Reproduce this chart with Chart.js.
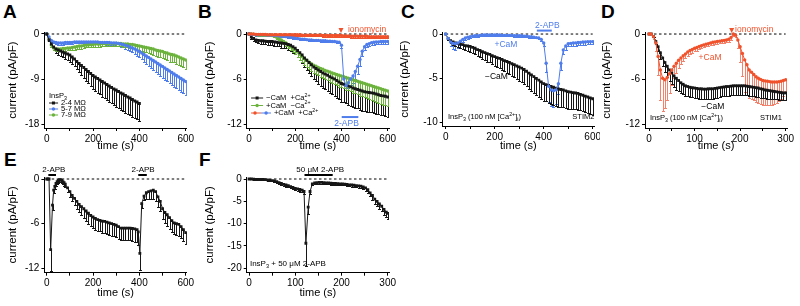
<!DOCTYPE html>
<html lang="en">
<head>
    <meta charset="UTF-8">
    <title>InsP3 currents, panels A-F</title>
    <script src="https://cdn.jsdelivr.net/npm/chart.js"></script>
    <style>
        body {
            margin: 0;
            width: 800px;
            height: 306px;
            position: relative;
            overflow: hidden;
            background: #fff;
            font-family: "Liberation Sans", Arial, sans-serif;
        }
        canvas { position: absolute; }
        .lbl {
            position: absolute;
            font-weight: bold;
            font-size: 19px;
            line-height: 1;
            color: #000;
        }
    </style>
</head>
<body>
    <div class="lbl" style="left:3px;top:2px">A</div>
    <div class="lbl" style="left:198px;top:2px">B</div>
    <div class="lbl" style="left:401px;top:2px">C</div>
    <div class="lbl" style="left:601px;top:2px">D</div>
    <div class="lbl" style="left:4px;top:150px">E</div>
    <div class="lbl" style="left:199px;top:150px">F</div>

    <canvas id="pA" width="195" height="153" style="left:0px;top:0px"></canvas>
    <canvas id="pB" width="205" height="153" style="left:195px;top:0px"></canvas>
    <canvas id="pC" width="202" height="153" style="left:398px;top:0px"></canvas>
    <canvas id="pD" width="200" height="153" style="left:600px;top:0px"></canvas>
    <canvas id="pE" width="195" height="146" style="left:0px;top:160px"></canvas>
    <canvas id="pF" width="205" height="146" style="left:195px;top:160px"></canvas>

    <script>
        // time points (s)
        const t10 = [0,10,20,30,40,50,60,70,80,90,100,110,120,130,140,150,160,170,180,190,200,210,220,230,240,250,260,270,280,290,300,310,320,330,340,350,360,370,380,390,400,410,420,430,440,450,460,470,480,490,500,510,520,530,540,550,560,570,580,590,600];
        const t5 = [0,5,10,15,20,25,30,35,40,45,50,55,60,65,70,75,80,85,90,95,100,105,110,115,120,125,130,135,140,145,150,155,160,165,170,175,180,185,190,195,200,205,210,215,220,225,230,235,240,245,250,255,260,265,270,275,280,285,290,295,300];
        const tE = [0,5,10,17,25,30,35,40,45,50,55,60,65,70,75,80,90,100,110,120,130,140,150,160,170,180,190,200,210,220,230,240,250,260,270,280,290,300,310,320,330,340,350,360,370,380,390,395,402,410,420,430,440,450,460,470,480,490,500,510,520,530,540,550,560,570,580,590,600];
        const tF = [0,5,10,15,20,25,30,35,40,45,50,55,60,65,70,75,80,85,90,95,100,105,110,115,119,123,128,132,137,142,147,152,157,162,167,172,177,182,187,192,197,202,207,212,217,222,227,232,237,242,247,252,257,262,267,272,277,282,287,292,297,300];

        // A: InsP3, pipette resistance
        const aSmall = [0,-1.2,-2.0,-2.6,-3.0,-3.2,-3.4,-3.6,-3.8,-4.0,-4.2,-4.6,-5.0,-5.5,-5.9,-6.3,-6.7,-7.1,-7.5,-7.9,-8.3,-8.6,-8.9,-9.2,-9.5,-9.8,-10.1,-10.4,-10.7,-11.0,-11.2,-11.5,-11.8,-12.0,-12.3,-12.6,-12.8,-13.1,-13.4,-13.6,-13.9];
        const aSmallErr = [0,0.3,0.5,0.7,0.8,0.9,1.0,1.1,1.2,1.2,1.3,1.4,1.5,1.6,1.8,1.9,2.0,2.2,2.3,2.4,2.6,2.7,2.8,2.9,3.0,3.0,3.1,3.1,3.2,3.2,3.3,3.3,3.3,3.4,3.4,3.4,3.4,3.4,3.4,3.4,3.4];
        const aMid = [0,-0.6,-1.3,-1.6,-1.7,-1.8,-1.8,-1.8,-1.7,-1.7,-1.7,-1.7,-1.6,-1.6,-1.6,-1.6,-1.6,-1.6,-1.6,-1.6,-1.6,-1.6,-1.6,-1.7,-1.7,-1.7,-1.7,-1.7,-1.8,-1.8,-1.8,-1.9,-2.0,-2.1,-2.3,-2.4,-2.6,-2.8,-3.0,-3.2,-3.5,-3.8,-4.1,-4.4,-4.7,-5.0,-5.3,-5.6,-5.9,-6.2,-6.5,-6.8,-7.1,-7.4,-7.7,-8.0,-8.3,-8.6,-8.9,-9.2,-9.5];
        const aMidErr = [0,0.2,0.3,0.3,0.3,0.3,0.3,0.3,0.3,0.3,0.3,0.3,0.3,0.3,0.3,0.3,0.3,0.3,0.3,0.3,0.3,0.3,0.3,0.3,0.3,0.3,0.4,0.4,0.4,0.4,0.5,0.5,0.6,0.6,0.7,0.8,0.8,0.9,1.0,1.1,1.2,1.3,1.4,1.5,1.6,1.8,1.9,2.0,2.1,2.2,2.2,2.3,2.3,2.4,2.4,2.5,2.5,2.6,2.6,2.7,2.7];
        const aLarge = [0,-1.0,-2.2,-2.8,-3.0,-3.0,-3.0,-2.9,-2.9,-2.8,-2.8,-2.7,-2.6,-2.5,-2.4,-2.4,-2.3,-2.2,-2.2,-2.1,-2.1,-2.0,-2.0,-2.0,-1.9,-1.9,-1.9,-1.9,-1.9,-1.9,-1.9,-1.9,-1.9,-2.0,-2.0,-2.0,-2.1,-2.1,-2.2,-2.3,-2.4,-2.5,-2.6,-2.7,-2.8,-2.9,-3.0,-3.2,-3.3,-3.4,-3.5,-3.7,-3.8,-4.0,-4.1,-4.2,-4.4,-4.6,-4.8,-5.0,-5.2];
        const aLargeErr = [0,0.2,0.4,0.5,0.5,0.5,0.5,0.5,0.5,0.5,0.5,0.5,0.5,0.5,0.5,0.5,0.5,0.5,0.5,0.5,0.5,0.5,0.5,0.5,0.5,0.5,0.5,0.5,0.5,0.5,0.5,0.5,0.5,0.6,0.6,0.6,0.7,0.7,0.8,0.8,0.9,0.9,1.0,1.0,1.1,1.1,1.2,1.2,1.3,1.3,1.3,1.4,1.4,1.5,1.5,1.5,1.6,1.6,1.6,1.7,1.7];

        // B: CaM / Ca2+
        const bNoCaM = [0,-0.4,-0.6,-0.8,-0.85,-0.9,-0.9,-0.95,-1.0,-1.0,-1.0,-1.05,-1.1,-1.15,-1.2,-1.25,-1.3,-1.4,-1.5,-1.7,-1.9,-2.2,-2.5,-2.8,-3.2,-3.5,-3.8,-4.1,-4.4,-4.6,-4.8,-5.0,-5.2,-5.35,-5.5,-5.7,-5.85,-6.0,-6.2,-6.4,-6.6,-6.7,-6.85,-6.95,-7.05,-7.2,-7.3,-7.4,-7.5,-7.6,-7.7,-7.75,-7.8,-7.85,-7.9,-8.0,-8.1,-8.2,-8.25,-8.3,-8.4];
        const bNoCaMErr = [0,0.2,0.3,0.3,0.4,0.4,0.4,0.4,0.5,0.5,0.5,0.5,0.5,0.5,0.6,0.6,0.6,0.7,0.7,0.8,0.8,0.9,1.0,1.1,1.2,1.3,1.4,1.5,1.6,1.7,1.8,1.9,2.0,2.0,2.1,2.1,2.2,2.2,2.3,2.3,2.4,2.4,2.4,2.5,2.5,2.5,2.5,2.5,2.6,2.6,2.6,2.6,2.6,2.6,2.6,2.6,2.6,2.6,2.6,2.6,2.6];
        const bNoCa = [0,0,-0.05,-0.05,-0.1,-0.1,-0.1,-0.1,-0.15,-0.15,-0.2,-0.3,-0.45,-0.6,-0.8,-1.0,-1.2,-1.45,-1.7,-1.9,-2.1,-2.4,-2.7,-3.0,-3.3,-3.5,-3.75,-3.95,-4.15,-4.3,-4.45,-4.6,-4.7,-4.85,-4.95,-5.05,-5.2,-5.3,-5.4,-5.5,-5.6,-5.7,-5.8,-5.9,-6.0,-6.1,-6.2,-6.3,-6.4,-6.5,-6.6,-6.7,-6.8,-6.9,-7.0,-7.1,-7.2,-7.3,-7.4,-7.5,-7.6];
        const bNoCaErr = [0,0.1,0.1,0.1,0.1,0.1,0.1,0.1,0.1,0.1,0.1,0.15,0.2,0.2,0.25,0.3,0.35,0.4,0.45,0.5,0.6,0.65,0.7,0.75,0.8,0.85,0.9,0.95,1.0,1.0,1.0,1.1,1.1,1.2,1.2,1.3,1.3,1.4,1.4,1.5,1.5,1.5,1.6,1.6,1.6,1.7,1.7,1.7,1.8,1.8,1.8,1.8,1.9,1.9,1.9,1.9,2.0,2.0,2.0,2.0,2.0];
        const bIono = [0,0,0,-0.05,-0.05,-0.05,-0.05,-0.05,-0.1,-0.1,-0.1,-0.1,-0.1,-0.1,-0.1,-0.1,-0.1,-0.1,-0.1,-0.1,-0.1,-0.1,-0.1,-0.15,-0.15,-0.15,-0.15,-0.15,-0.15,-0.15,-0.15,-0.15,-0.2,-0.2,-0.2,-0.2,-0.2,-0.2,-0.2,-0.2,-0.2,-0.25,-0.25,-0.25,-0.3,-0.3,-0.3,-0.3,-0.3,-0.3,-0.3,-0.3,-0.35,-0.35,-0.35,-0.35,-0.35,-0.35,-0.35,-0.35,-0.35];
        const bIonoErr = [0,0.05,0.05,0.1,0.1,0.1,0.1,0.1,0.1,0.1,0.1,0.1,0.1,0.1,0.1,0.1,0.1,0.1,0.1,0.1,0.1,0.15,0.15,0.15,0.15,0.15,0.15,0.15,0.15,0.15,0.15,0.15,0.15,0.15,0.15,0.15,0.15,0.15,0.15,0.15,0.15,0.2,0.2,0.2,0.2,0.2,0.2,0.2,0.2,0.2,0.2,0.2,0.2,0.2,0.2,0.2,0.2,0.2,0.2,0.2,0.2];
        const bApb = [0,-0.05,-0.05,-0.1,-0.1,-0.1,-0.1,-0.1,-0.15,-0.15,-0.15,-0.2,-0.2,-0.25,-0.25,-0.3,-0.35,-0.4,-0.45,-0.5,-0.55,-0.6,-0.65,-0.7,-0.7,-0.75,-0.8,-0.8,-0.85,-0.85,-0.85,-0.9,-0.9,-0.9,-0.95,-0.95,-1.0,-1.0,-1.05,-1.1,-1.5,-6.0,-6.9,-6.5,-6.0,-5.6,-5.0,-4.3,-3.4,-2.3,-1.7,-1.4,-1.3,-1.15,-1.1,-1.05,-1.05,-1.0,-1.0,-1.0,-1.0];
        const bApbErr = [0,0.05,0.05,0.1,0.1,0.1,0.1,0.1,0.1,0.1,0.1,0.1,0.1,0.1,0.1,0.1,0.1,0.1,0.1,0.1,0.1,0.1,0.1,0.1,0.1,0.1,0.1,0.1,0.1,0.1,0.1,0.1,0.1,0.1,0.1,0.1,0.1,0.1,0.1,0.1,0.3,0.6,0.6,0.7,0.8,0.9,1.0,1.0,0.9,0.6,0.4,0.3,0.3,0.3,0.3,0.3,0.3,0.3,0.3,0.3,0.3];

        // C: STIM2
        const cCaM = [0,-0.5,-0.9,-1.05,-1.1,-1.0,-0.8,-0.6,-0.45,-0.35,-0.3,-0.25,-0.2,-0.2,-0.15,-0.1,-0.1,-0.1,-0.1,-0.1,-0.1,-0.1,-0.1,-0.15,-0.15,-0.15,-0.15,-0.15,-0.2,-0.2,-0.2,-0.2,-0.25,-0.25,-0.3,-0.3,-0.35,-0.4,-0.45,-0.6,-1.0,-3.3,-5.9,-6.3,-6.4,-6.3,-5.6,-3.3,-1.8,-1.35,-1.1,-1.05,-1.0,-1.0,-0.95,-0.95,-0.9,-0.9,-0.85,-0.85,-0.85];
        const cCaMErr = [0,0.2,0.4,0.6,0.7,0.6,0.4,0.3,0.2,0.2,0.2,0.1,0.1,0.1,0.1,0.1,0.1,0.1,0.1,0.1,0.1,0.1,0.1,0.1,0.1,0.1,0.1,0.1,0.1,0.1,0.1,0.1,0.1,0.1,0.1,0.1,0.1,0.1,0.1,0.2,0.3,1.0,1.8,1.8,1.8,1.6,1.2,0.8,0.5,0.4,0.3,0.3,0.3,0.3,0.3,0.3,0.3,0.3,0.3,0.3,0.3];
        const cNoCaM = [0,-0.5,-0.75,-0.9,-1.0,-1.05,-1.1,-1.2,-1.3,-1.35,-1.4,-1.5,-1.6,-1.75,-1.85,-2.0,-2.1,-2.2,-2.3,-2.45,-2.55,-2.65,-2.75,-2.85,-3.0,-3.1,-3.2,-3.35,-3.45,-3.6,-3.7,-3.85,-4.0,-4.2,-4.4,-4.6,-4.8,-5.0,-5.2,-5.4,-5.6,-5.7,-5.8,-5.9,-6.0,-6.1,-6.2,-6.25,-6.3,-6.4,-6.5,-6.55,-6.6,-6.65,-6.7,-6.8,-6.9,-7.0,-7.1,-7.2,-7.3];
        const cNoCaMErr = [0,0.2,0.3,0.3,0.35,0.4,0.45,0.5,0.5,0.55,0.6,0.65,0.7,0.7,0.75,0.8,0.85,0.9,0.9,0.95,1.0,1.05,1.1,1.15,1.2,1.3,1.35,1.4,1.45,1.5,1.6,1.6,1.65,1.7,1.75,1.8,1.8,1.85,1.85,1.9,1.9,1.9,1.95,1.95,2.0,2.0,2.0,2.0,1.95,1.95,1.9,1.9,1.9,1.85,1.85,1.8,1.8,1.8,1.8,1.8,1.8];

        // D: STIM1
        const dCaM = [0,0,-0.35,-1.2,-3.0,-4.8,-5.9,-6.1,-5.8,-5.3,-4.8,-4.3,-3.9,-3.5,-3.2,-2.9,-2.65,-2.4,-2.2,-2.05,-1.9,-1.8,-1.65,-1.55,-1.45,-1.35,-1.3,-1.2,-1.1,-1.05,-1.0,-0.95,-0.9,-0.85,-0.8,-0.7,-0.45,0.0,-0.15,-0.8,-1.7,-2.6,-3.45,-4.1,-4.8,-5.1,-5.4,-5.7,-5.9,-6.05,-6.2,-6.25,-6.3,-6.35,-6.4,-6.4,-6.4,-6.35,-6.3,-6.2,-6.1];
        const dCaMErr = [0,0,0.3,1.0,2.5,4.0,4.4,3.8,3.0,2.5,2.0,1.6,1.3,1.0,0.8,0.7,0.6,0.5,0.5,0.45,0.4,0.4,0.35,0.35,0.3,0.3,0.3,0.3,0.3,0.3,0.3,0.3,0.3,0.3,0.3,0.3,0.3,0.2,0.3,1.0,2.0,3.0,4.3,4.0,3.7,3.5,3.4,3.4,3.3,3.3,3.3,3.2,3.2,3.1,3.0,2.9,2.8,2.6,2.4,2.0,1.5];
        const dNoCaM = [0,0,-0.35,-1.0,-1.7,-2.5,-3.2,-3.8,-4.3,-4.8,-5.2,-5.6,-5.9,-6.2,-6.5,-6.7,-6.9,-7.0,-7.1,-7.15,-7.2,-7.25,-7.3,-7.3,-7.35,-7.35,-7.3,-7.3,-7.3,-7.25,-7.2,-7.15,-7.1,-7.05,-7.0,-7.0,-6.95,-6.9,-6.9,-6.9,-6.9,-6.9,-6.9,-6.95,-7.0,-7.05,-7.1,-7.15,-7.2,-7.3,-7.35,-7.45,-7.5,-7.55,-7.6,-7.65,-7.7,-7.75,-7.8,-7.85,-7.85];
        const dNoCaMErr = [0,0,0.1,0.3,0.5,0.8,1.0,1.2,1.4,1.5,1.5,1.5,1.5,1.4,1.4,1.3,1.3,1.3,1.3,1.3,1.3,1.3,1.3,1.3,1.3,1.3,1.3,1.3,1.3,1.3,1.3,1.2,1.2,1.2,1.2,1.2,1.2,1.2,1.2,1.2,1.2,1.2,1.2,1.2,1.2,1.2,1.2,1.2,1.2,1.2,1.2,1.1,1.1,1.1,1.1,1.0,1.0,1.0,1.0,1.0,1.0];

        // E: repeated 2-APB
        const eMean = [0,0,0,-9.5,-3.5,-1.5,-1.0,-0.6,-0.35,-0.2,-0.1,-0.1,-0.2,-0.35,-0.5,-0.7,-1.2,-1.7,-2.2,-2.6,-3.0,-3.4,-3.7,-4.0,-4.3,-4.6,-4.9,-5.1,-5.3,-5.45,-5.55,-5.65,-5.7,-5.8,-5.9,-6.0,-6.1,-6.2,-6.4,-6.6,-6.6,-6.6,-6.6,-6.6,-6.65,-6.7,-6.8,-7.1,-10.0,-3.3,-2.3,-1.85,-1.7,-1.6,-1.5,-1.7,-2.4,-3.0,-4.0,-4.5,-4.8,-5.2,-5.6,-5.9,-6.0,-6.1,-6.4,-6.8,-7.2];
        const eErr = [0,0,0,2.8,0.6,0.4,0.3,0.3,0.3,0.3,0.3,0.3,0.3,0.3,0.4,0.4,0.5,0.7,0.8,0.9,1.0,1.1,1.2,1.3,1.3,1.4,1.4,1.5,1.5,1.5,1.5,1.6,1.6,1.6,1.6,1.6,1.6,1.6,1.6,1.6,1.6,1.6,1.6,1.6,1.7,1.7,1.7,1.8,2.2,0.6,0.5,0.8,1.0,1.1,1.2,1.2,1.3,1.3,1.4,1.4,1.5,1.5,1.5,1.5,1.5,1.5,1.5,1.5,1.5];

        // F: InsP3 + 50 uM 2-APB
        const fMean = [0,0,-0.05,-0.1,-0.1,-0.1,-0.1,-0.15,-0.2,-0.3,-0.35,-0.45,-0.6,-0.8,-1.0,-1.2,-1.35,-1.5,-1.7,-1.9,-2.1,-2.2,-2.35,-2.5,-2.8,-14.4,-6.3,-2.8,-1.1,-0.9,-0.8,-0.75,-0.75,-0.8,-0.85,-0.9,-0.95,-1.0,-1.0,-1.05,-1.1,-1.1,-1.15,-1.2,-1.3,-1.35,-1.4,-1.5,-1.55,-1.6,-1.75,-2.0,-2.4,-3.1,-3.7,-4.5,-5.0,-5.6,-6.1,-6.8,-7.4,-7.7];
        const fErr = [0,0.1,0.1,0.1,0.1,0.1,0.1,0.1,0.15,0.2,0.2,0.2,0.25,0.3,0.3,0.3,0.35,0.35,0.4,0.4,0.4,0.4,0.45,0.45,0.5,5.2,1.5,0.6,0.3,0.3,0.3,0.3,0.3,0.3,0.3,0.3,0.3,0.3,0.3,0.3,0.3,0.3,0.3,0.3,0.35,0.35,0.4,0.4,0.45,0.5,0.55,0.6,0.7,0.8,0.9,1.0,1.0,1.1,1.1,1.2,1.2,1.3];

        // axis ticks
        const ticks600 = [0,100,200,300,400,500,600];
        const labels600 = [0,200,400,600];
        const ticks300 = [0,50,100,150,200,250,300];
        const labels300 = [0,100,200,300];
        const yTicksA = [0,-9,-18];
        const yTicks6 = [0,-6,-12];
        const yTicksC = [0,-5,-10];
        const yTicksF = [0,-5,-10,-15,-20];

        const BLACK = '#161616', BLUE = '#4f7deb', GREEN = '#6cb33d', RED = '#f0522c';

        Chart.defaults.font.family = '"Liberation Sans", Arial, sans-serif';
        Chart.defaults.color = '#000';

        // text with _{sub} and ^{sup}
        function richText(ctx, str, x, y, align, size, color) {
            const parts = [];
            const re = /([_^])\{([^}]*)\}/g;
            let last = 0, m;
            while ((m = re.exec(str))) {
                if (m.index > last) parts.push({ t: str.slice(last, m.index), k: '' });
                parts.push({ t: m[2], k: m[1] });
                last = re.lastIndex;
            }
            if (last < str.length) parts.push({ t: str.slice(last), k: '' });
            const font = s => s + 'px "Liberation Sans", Arial, sans-serif';
            let w = 0;
            parts.forEach(p => {
                ctx.font = font(p.k ? size * 0.7 : size);
                p.w = ctx.measureText(p.t).width;
                w += p.w;
            });
            let cx = align === 'center' ? x - w / 2 : align === 'right' ? x - w : x;
            ctx.fillStyle = color;
            ctx.textAlign = 'left';
            ctx.textBaseline = 'middle';
            parts.forEach(p => {
                ctx.font = font(p.k ? size * 0.7 : size);
                const dy = p.k === '_' ? size * 0.3 : p.k === '^' ? -size * 0.35 : 0;
                ctx.fillText(p.t, cx, y + dy);
                cx += p.w;
            });
        }

        function mark(ctx, x, y, color, style) {
            ctx.fillStyle = color;
            if (style === 'rect') {
                ctx.fillRect(x - 1.5, y - 1.5, 3, 3);
            } else {
                ctx.beginPath();
                ctx.arc(x, y, 1.7, 0, Math.PI * 2);
                ctx.fill();
            }
        }

        // one-sided (downward) SEM bars
        const errorBars = {
            id: 'errorBars',
            beforeDatasetsDraw(chart) {
                const { ctx, chartArea: a, scales: { x, y } } = chart;
                ctx.save();
                ctx.beginPath();
                ctx.rect(a.left, a.top, a.right - a.left, a.bottom - a.top);
                ctx.clip();
                chart.data.datasets.forEach(ds => {
                    if (!ds.err) return;
                    ctx.strokeStyle = ds.errColor || ds.borderColor;
                    ctx.lineWidth = 1;
                    ds.data.forEach((p, i) => {
                        const e = ds.err[i];
                        if (!e) return;
                        const px = Math.round(x.getPixelForValue(p.x)) + 0.5;
                        const y0 = y.getPixelForValue(p.y);
                        const y1 = Math.round(y.getPixelForValue(p.y - e)) + 0.5;
                        ctx.beginPath();
                        ctx.moveTo(px, y0);
                        ctx.lineTo(px, y1);
                        ctx.moveTo(px - 1.5, y1);
                        ctx.lineTo(px + 1.5, y1);
                        ctx.stroke();
                    });
                });
                ctx.restore();
            }
        };

        // labels, drug bars, arrows and small legends, placed in data units
        const notes = {
            id: 'notes',
            afterDraw(chart, args, opts) {
                const { ctx, scales: { x, y } } = chart;
                ctx.save();
                (opts.bars || []).forEach(b => {
                    ctx.strokeStyle = b.c;
                    ctx.lineWidth = 2;
                    ctx.beginPath();
                    ctx.moveTo(x.getPixelForValue(b.x0), y.getPixelForValue(b.y));
                    ctx.lineTo(x.getPixelForValue(b.x1), y.getPixelForValue(b.y));
                    ctx.stroke();
                });
                (opts.arrows || []).forEach(a => {
                    const px = x.getPixelForValue(a.x), py = y.getPixelForValue(a.y);
                    ctx.fillStyle = a.c;
                    ctx.beginPath();
                    ctx.moveTo(px, py);
                    ctx.lineTo(px - 2.5, py - 5);
                    ctx.lineTo(px + 2.5, py - 5);
                    ctx.closePath();
                    ctx.fill();
                });
                (opts.texts || []).forEach(t => {
                    richText(ctx, t.t, x.getPixelForValue(t.x), y.getPixelForValue(t.y), t.a || 'center', t.s || 8, t.c || '#000');
                });
                (opts.legend || []).forEach(r => {
                    const py = y.getPixelForValue(r.y);
                    r.segs.forEach(s => {
                        ctx.strokeStyle = s[2];
                        ctx.lineWidth = 1;
                        ctx.beginPath();
                        ctx.moveTo(x.getPixelForValue(s[0]), py);
                        ctx.lineTo(x.getPixelForValue(s[1]), py);
                        ctx.stroke();
                    });
                    r.marks.forEach(mk => mark(ctx, x.getPixelForValue(mk[0]), py, mk[1], mk[2]));
                    richText(ctx, r.t, x.getPixelForValue(r.tx), py, 'left', 7.5, '#000');
                });
                ctx.restore();
            }
        };

        Chart.register(errorBars, notes);

        function line(xs, ys, err, color, style, order, errColor) {
            return {
                data: ys.map((v, i) => ({ x: xs[i], y: v })),
                err: err,
                errColor: errColor,
                borderColor: color,
                backgroundColor: color,
                pointBackgroundColor: color,
                borderWidth: 1,
                pointRadius: style === 'rect' ? 2 : 1.7,
                pointBorderWidth: 0,
                pointStyle: style || 'circle',
                order: order
            };
        }

        function zero(xEnd) {
            return {
                data: [{ x: 0, y: 0 }, { x: xEnd, y: 0 }],
                borderColor: '#000',
                borderWidth: 1,
                borderDash: [2.5, 2.5],
                pointRadius: 0,
                order: 99
            };
        }

        function panel(id, c) {
            return new Chart(document.getElementById(id), {
                type: 'line',
                data: { datasets: c.datasets },
                options: {
                    responsive: false,
                    animation: false,
                    devicePixelRatio: 1,
                    layout: { padding: c.pad, autoPadding: false },
                    plugins: {
                        legend: { display: false },
                        tooltip: { enabled: false },
                        notes: c.notes
                    },
                    scales: {
                        x: {
                            type: 'linear',
                            min: c.x[0],
                            max: c.x[1],
                            afterBuildTicks: s => { s.ticks = c.xTicks.map(v => ({ value: v })); },
                            afterFit: s => { s.height = c.xh; s.paddingLeft = 0; s.paddingRight = 0; },
                            border: { color: '#000', width: 1 },
                            grid: { drawOnChartArea: false, tickLength: 3, color: '#000' },
                            ticks: {
                                color: '#000', font: { size: 10 }, padding: 2,
                                autoSkip: false, maxRotation: 0,
                                callback: v => c.xLabels.includes(v) ? String(v) : ''
                            },
                            title: {
                                display: true, text: 'time (s)', color: '#000',
                                font: { size: 11 }, padding: { top: 0, bottom: c.xtp || 0 }
                            }
                        },
                        y: {
                            type: 'linear',
                            min: c.y[0],
                            max: c.y[1],
                            afterBuildTicks: s => { s.ticks = c.yTicks.map(v => ({ value: v })); },
                            afterFit: s => { s.width = c.yw; s.paddingTop = 0; s.paddingBottom = 0; },
                            border: { color: '#000', width: 1 },
                            grid: { drawOnChartArea: false, tickLength: 3, color: '#000' },
                            ticks: { color: '#000', font: { size: 10 }, padding: 2, autoSkip: false, callback: v => String(v) },
                            title: {
                                display: true, text: 'current (pA/pF)', color: '#000',
                                font: { size: 11.5 }, padding: { top: c.ytp || 0, bottom: 0 }
                            }
                        }
                    }
                }
            });
        }

        // A
        panel('pA', {
            pad: { top: 32, right: 8.1, left: 0, bottom: 0 }, yw: 44.4, xh: 25, ytp: 6.1,
            x: [-10, 605], y: [-18.8, 0.4], xTicks: ticks600, xLabels: labels600, yTicks: yTicksA,
            datasets: [
                line(t10, aSmall, aSmallErr, BLACK, 'rect', 0),
                line(t10, aMid, aMidErr, BLUE, 'circle', 1),
                line(t10, aLarge, aLargeErr, GREEN, 'circle', 2),
                zero(600)
            ],
            notes: {
                texts: [{ x: 10, y: -12.4, t: 'InsP_{3}', a: 'left', s: 7.5 }],
                legend: [
                    { y: -13.8, segs: [[10, 49, BLACK]], marks: [[29, BLACK, 'rect']], tx: 62, t: '2-4 MΩ' },
                    { y: -15.0, segs: [[10, 49, BLUE]], marks: [[29, BLUE]], tx: 62, t: '5-7 MΩ' },
                    { y: -16.2, segs: [[10, 49, GREEN]], marks: [[29, GREEN]], tx: 62, t: '7-9 MΩ' }
                ]
            }
        });

        // B
        panel('pB', {
            pad: { top: 32, right: 11, left: 0, bottom: 0 }, yw: 51.7, xh: 25, ytp: 8.1,
            x: [-10, 605.6], y: [-12.53, 0.27], xTicks: ticks600, xLabels: labels600, yTicks: yTicks6,
            datasets: [
                line(t10, bIono, bIonoErr, RED, 'circle', 0),
                line(t10, bApb, bApbErr, BLUE, 'circle', 1),
                line(t10, bNoCaM, bNoCaMErr, BLACK, 'rect', 2),
                line(t10, bNoCa, bNoCaErr, GREEN, 'circle', 3),
                zero(600)
            ],
            notes: {
                arrows: [{ x: 398, y: 0.13, c: RED }],
                texts: [
                    { x: 428, y: 0.53, t: 'ionomycin', a: 'left', c: RED, s: 8.5 },
                    { x: 422, y: -12.0, t: '2-APB', c: BLUE, s: 8.5 }
                ],
                bars: [{ x0: 401, x1: 473, y: -11.07, c: BLUE }],
                legend: [
                    { y: -8.53, segs: [[9, 61, BLACK]], marks: [[35, BLACK, 'rect']], tx: 74, t: '−CaM  +Ca^{2+}' },
                    { y: -9.53, segs: [[9, 61, GREEN]], marks: [[35, GREEN]], tx: 74, t: '+CaM  −Ca^{2+}' },
                    { y: -10.53, segs: [[9, 52, RED], [52, 95, BLUE]], marks: [[26, RED], [74, BLUE]], tx: 108, t: '+CaM  +Ca^{2+}' }
                ]
            }
        });

        // C
        panel('pC', {
            pad: { top: 32, right: 6, left: 0, bottom: 0 }, yw: 44.7, xh: 27, ytp: 0,
            x: [-12.2, 605.3], y: [-10.37, 0.23], xTicks: ticks600, xLabels: labels600, yTicks: yTicksC,
            datasets: [
                line(t10, cCaM, cCaMErr, BLUE, 'circle', 0),
                line(t10, cNoCaM, cNoCaMErr, BLACK, 'rect', 1),
                zero(600)
            ],
            notes: {
                texts: [
                    { x: 415, y: 1.0, t: '2-APB', c: BLUE, s: 8.5 },
                    { x: 246, y: -1.24, t: '+CaM', c: BLUE, s: 8.5 },
                    { x: 207, y: -4.85, t: '−CaM', s: 8.5 },
                    { x: 9, y: -9.36, t: 'InsP_{3} (100 nM [Ca^{2+}]_{i})', a: 'left', s: 7.5 },
                    { x: 607, y: -9.36, t: 'STIM2', a: 'right', s: 7.5 }
                ],
                bars: [{ x0: 372, x1: 433, y: 0.39, c: BLUE }]
            }
        });

        // D
        panel('pD', {
            pad: { top: 32, right: 13, left: 0, bottom: 0 }, yw: 45, xh: 25, ytp: 0.2,
            x: [-8.8, 302.9], y: [-12.53, 0.27], xTicks: ticks300, xLabels: labels300, yTicks: yTicks6,
            datasets: [
                line(t5, dCaM, dCaMErr, RED, 'circle', 0, '#f3826c'),
                line(t5, dNoCaM, dNoCaMErr, BLACK, 'rect', 1),
                zero(300)
            ],
            notes: {
                arrows: [{ x: 181.5, y: 0.13, c: RED }],
                texts: [
                    { x: 189, y: 0.63, t: 'ionomycin', a: 'left', c: RED, s: 8.5 },
                    { x: 134, y: -3.1, t: '+CaM', c: RED, s: 8.5 },
                    { x: 140, y: -9.7, t: '−CaM', s: 8.5 },
                    { x: 2, y: -11.2, t: 'InsP_{3} (100 nM [Ca^{2+}]_{i})', a: 'left', s: 7.5 },
                    { x: 292, y: -11.2, t: 'STIM1', a: 'right', s: 7.5 }
                ]
            }
        });

        // E
        panel('pE', {
            pad: { top: 17, right: 8.1, left: 0, bottom: 0 }, yw: 44.4, xh: 33.3, ytp: 6.1, xtp: 6.1,
            x: [-10, 605], y: [-12.59, 0.27], xTicks: ticks600, xLabels: labels600, yTicks: yTicks6,
            datasets: [
                line(tE, eMean, eErr, BLACK, 'rect', 0),
                zero(600)
            ],
            notes: {
                texts: [
                    { x: 31, y: 1.2, t: '2-APB', s: 8 },
                    { x: 416, y: 1.2, t: '2-APB', s: 8 }
                ],
                bars: [
                    { x0: 7, x1: 40, y: 0.54, c: '#000' },
                    { x0: 395, x1: 432, y: 0.54, c: '#000' }
                ]
            }
        });

        // F
        panel('pF', {
            pad: { top: 17, right: 11, left: 0, bottom: 0 }, yw: 51.7, xh: 33.3, ytp: 8.1, xtp: 6.1,
            x: [-5, 302.8], y: [-20.99, 0.45], xTicks: ticks300, xLabels: labels300, yTicks: yTicksF,
            datasets: [
                line(tF, fMean, fErr, BLACK, 'rect', 0),
                zero(300)
            ],
            notes: {
                texts: [
                    { x: 154, y: 2.0, t: '50 μM 2-APB', s: 8 },
                    { x: 2, y: -19.0, t: 'InsP_{3} + 50 μM 2-APB', a: 'left', s: 8 }
                ],
                bars: [{ x0: 120, x1: 181, y: 0.9, c: '#000' }]
            }
        });
    </script>
</body>
</html>
